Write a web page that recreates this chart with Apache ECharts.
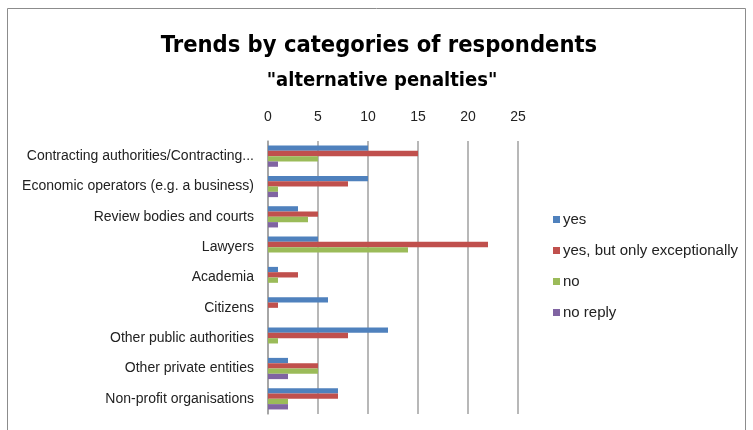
<!DOCTYPE html>
<html>
<head>
<meta charset="utf-8">
<script src="https://cdn.jsdelivr.net/npm/echarts@6/dist/echarts.min.js"></script>
<style>
    html, body { margin: 0; padding: 0; background: #fff; }
    #main { width: 753px; height: 430px; }
</style>
</head>
<body>
<div id="main"></div>
<script>
    // categories, top to bottom
    var categories = [
        'Contracting authorities/Contracting...',
        'Economic operators (e.g. a business)',
        'Review bodies and courts',
        'Lawyers',
        'Academia',
        'Citizens',
        'Other public authorities',
        'Other private entities',
        'Non-profit organisations'
    ];
    var seriesNames = ['yes', 'yes, but only exceptionally', 'no', 'no reply'];
    var yesData = [10, 10, 3, 5, 1, 6, 12, 2, 7];
    var exceptData = [15, 8, 5, 22, 3, 1, 8, 5, 7];
    var noData = [5, 1, 4, 14, 1, 0, 1, 5, 2];
    var noReplyData = [1, 1, 1, 0, 0, 0, 0, 2, 2];
    var xTicks = [0, 5, 10, 15, 20, 25];

    var colors = ['#4F81BD', '#C0504D', '#9BBB59', '#8064A2'];
    var labelFont = "'Liberation Sans', Arial, sans-serif";
    var titleFont = "'DejaVu Sans Condensed', 'Liberation Sans Narrow', sans-serif";

    var myChart = echarts.init(document.getElementById('main'));

    function barSeries(idx, data) {
        return {
            name: seriesNames[idx],
            type: 'bar',
            data: data,
            barGap: '0%',
            barCategoryGap: '30%',
            itemStyle: { color: colors[idx] },
            animation: false
        };
    }

    var option = {
        backgroundColor: '#fff',
        title: [{
            text: 'Trends by categories of respondents',
            left: 374,
            top: 29,
            textAlign: 'center',
            textStyle: { fontFamily: titleFont, fontSize: 23.5, fontWeight: 'bold', color: '#000' }
        }, {
            text: '"alternative penalties"',
            left: 377,
            top: 66,
            textAlign: 'center',
            textStyle: { fontFamily: titleFont, fontSize: 20, fontWeight: 'bold', color: '#000' }
        }],
        legend: {
            orient: 'vertical',
            left: 548,
            top: 207,
            itemWidth: 7,
            itemHeight: 7,
            itemGap: 16,
            icon: 'rect',
            data: seriesNames,
            textStyle: { fontFamily: labelFont, fontSize: 15, color: '#222', padding: [0, 0, 0, -2] }
        },
        grid: {
            left: 268,
            right: 235,
            top: 141,
            bottom: 16,
            containLabel: false
        },
        xAxis: {
            type: 'value',
            position: 'top',
            min: xTicks[0],
            max: xTicks[xTicks.length - 1],
            interval: 5,
            axisLine: { show: false },
            axisTick: { show: false },
            axisLabel: { margin: 17, fontFamily: labelFont, fontSize: 14, color: '#222' },
            splitLine: { show: true, lineStyle: { color: '#A0A0A0', width: 1.5 } }
        },
        yAxis: {
            type: 'category',
            inverse: true,
            data: categories,
            axisLine: { show: true, lineStyle: { color: '#A0A0A0', width: 1.5 } },
            axisTick: { show: false },
            axisLabel: { margin: 14, fontFamily: labelFont, fontSize: 14, color: '#222' }
        },
        series: [
            barSeries(0, yesData),
            barSeries(1, exceptData),
            barSeries(2, noData),
            barSeries(3, noReplyData)
        ],
        graphic: [{
            type: 'rect',
            shape: { x: 7.5, y: 8.5, width: 738, height: 430 },
            style: { fill: null, stroke: '#8C8C8C', lineWidth: 1 },
            silent: true
        }]
    };
    myChart.setOption(option);
</script>
</body>
</html>
